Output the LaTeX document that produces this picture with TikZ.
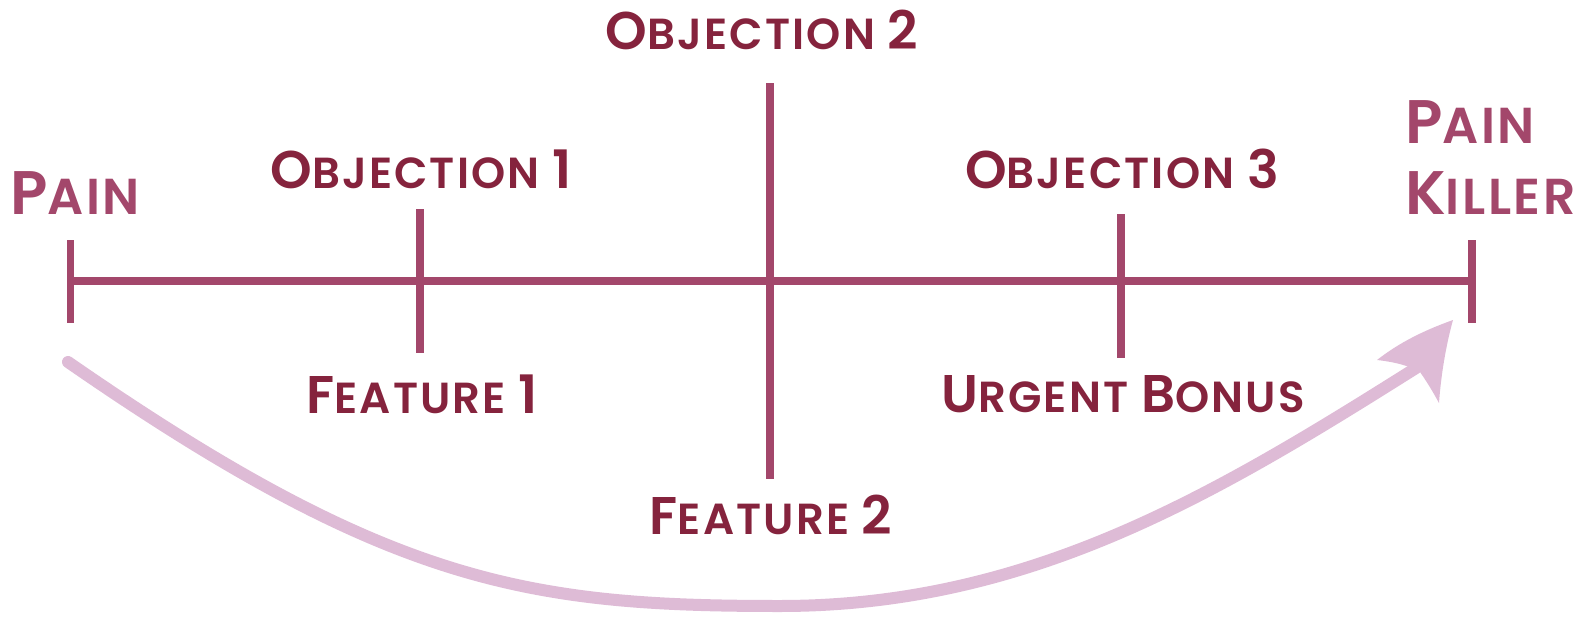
\documentclass[tikz,border=0pt]{standalone}
\usepackage{fontspec}
\setmainfont{Poppins}[UprightFont={* SemiBold}, LetterSpace=5]
\definecolor{linec}{HTML}{A3476B}
\definecolor{textc}{HTML}{85233D}
\definecolor{arrowc}{HTML}{DEBBD6}
\newcommand\Aa{\fontsize{61.5}{71}\selectfont}
\newcommand\Ab{\fontsize{50.5}{71}\selectfont}
\newcommand\Ba{\fontsize{53}{60}\selectfont}
\newcommand\Bb{\fontsize{43.5}{60}\selectfont}
\tikzset{
  axisline/.style={draw=linec, line width=8pt},
  tickline/.style={draw=linec, line width=7.5pt},
  endlab/.style={inner sep=0pt, text=linec, align=left, font=\Aa},
  lab/.style={inner sep=0pt, text=textc},
  journey/.style={draw=arrowc, line width=12pt, line cap=round},
}
\begin{document}
\begin{tikzpicture}[x=1pt,y=-1pt]
\useasboundingbox (0,0) rectangle (1580,616);
% axis
\coordinate (L) at (70.5,281);
\coordinate (R) at (1472,281);
\draw[axisline] (L) -- (R);
% ticks
\coordinate (t0a) at (70.5,240);  \coordinate (t0b) at (70.5,323);
\coordinate (t1a) at (420,209);   \coordinate (t1b) at (420,353);
\coordinate (t2a) at (770,83);    \coordinate (t2b) at (770,479);
\coordinate (t3a) at (1121,214);  \coordinate (t3b) at (1121,358);
\coordinate (t4a) at (1472,240);  \coordinate (t4b) at (1472,323);
\foreach \i in {0,...,4} \draw[tickline] (t\i a) -- (t\i b);
% labels
\node[endlab] (pain) at (75,193.5) {P\Ab AIN};
\node[endlab, anchor=north west] (killer) at (1405,100) {P\Ab AIN\\\Aa K\Ab ILLER};
\node[lab] (obj1) at (421,169) {\Ba O\Bb BJECTION \Ba 1};
\node[lab] (obj2) at (762,30) {\Ba O\Bb BJECTION \Ba 2};
\node[lab] (obj3) at (1122,169) {\Ba O\Bb BJECTION \Ba 3};
\node[lab] (feat1) at (422,394) {\Ba F\Bb EATURE \Ba 1};
\node[lab] (feat2) at (771,515) {\Ba F\Bb EATURE \Ba 2};
\node[lab] (bonus) at (1123,394) {\Ba U\Bb RGENT \Ba B\Bb ONUS};
% journey arrow
\coordinate (js) at (68,362);
\coordinate (jb) at (780,606);
\coordinate (je) at (1416,368);
\coordinate (tip) at (1453,320);
\draw[journey] (js) .. controls (390,585) and (530,606) .. (jb)
  .. controls (1030,606) and (1216,494) .. (je);
\fill[arrowc] (tip) .. controls (1425,330) and (1400,342) .. (1377,360)
  .. controls (1395,362) and (1410,366) .. (1420,372)
  .. controls (1427,382) and (1433,392) .. (1439,403)
  .. controls (1441,375) and (1446,345) .. (tip) -- cycle;
\end{tikzpicture}
\end{document}
